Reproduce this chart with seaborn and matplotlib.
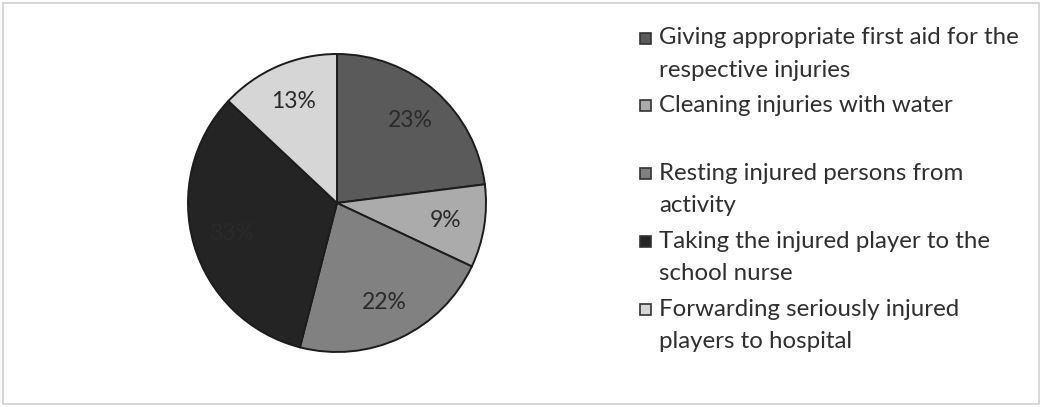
import matplotlib
matplotlib.use("Agg")
import matplotlib.pyplot as plt
from matplotlib.patches import Rectangle
import seaborn as sns

# Responses on first-aid practice (percent of respondents)
categories = [
    "Giving appropriate first aid for the\nrespective injuries",
    "Cleaning injuries with water\n",
    "Resting injured persons from\nactivity",
    "Taking the injured player to the\nschool nurse",
    "Forwarding seriously injured\nplayers to hospital",
]
shares = [23, 9, 22, 33, 13]
slice_colors = ["#5a5a5a", "#ababab", "#818181", "#242424", "#d6d6d6"]

sns.set_theme(style="white")
plt.rcParams["font.family"] = ["Lato", "DejaVu Sans"]

W, H = 1042, 407
fig = plt.figure(figsize=(W / 100, H / 100), dpi=100)
fig.patch.set_facecolor("white")

# thin grey frame around the whole chart area
fig.patches.append(Rectangle((3 / W, 3 / H), (W - 6) / W, (H - 6) / H,
                             transform=fig.transFigure, fill=False,
                             edgecolor="#cfcfcf", linewidth=1.2))

# pie axes: centre (337, 203) px, radius 149 px
cx, cy, r = 337, 203, 149
ax = fig.add_axes([(cx - r) / W, (H - cy - r) / H, 2 * r / W, 2 * r / H])
wedges, texts, autotexts = ax.pie(
    shares, colors=slice_colors, startangle=90, counterclock=False,
    autopct="%d%%", pctdistance=0.74,
    wedgeprops=dict(edgecolor="#1c1c1c", linewidth=1.4),
    textprops=dict(fontsize=16.5, color="#2a2a2a"),
    radius=1.0,
)
for w in wedges:
    w.set_clip_on(False)
ax.set_xlim(-1, 1)
ax.set_ylim(-1, 1)
ax.set_aspect("equal")
ax.axis("off")

# legend drawn in pixel coordinates
lax = fig.add_axes([0, 0, 1, 1])
lax.set_xlim(0, W)
lax.set_ylim(H, 0)
lax.axis("off")

line_h = 32.3
gap = 3.2
y = 38
for label, col in zip(categories, slice_colors):
    lines = label.split("\n")
    lax.add_patch(Rectangle((640, y - 5.5), 11, 11, facecolor=col,
                            edgecolor="#333333", linewidth=1.2))
    for i, ln in enumerate(lines):
        if ln:
            lax.text(659, y + i * line_h, ln, fontsize=17.3, color="#2f2f2f",
                     va="center", ha="left")
    y += len(lines) * line_h + gap

fig.savefig("out.png", dpi=100, facecolor="white")
